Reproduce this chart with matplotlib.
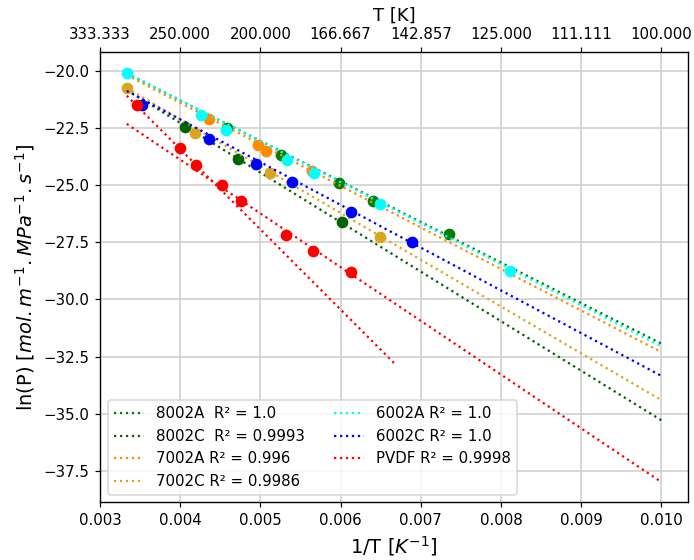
import numpy as np
import matplotlib
matplotlib.use('Agg')
import matplotlib.pyplot as plt

# measured points, x = 1/T [1/K], y = ln(P)
x_8002A = [0.004578, 0.005254, 0.00598, 0.006404, 0.00735]
y_8002A = [-22.50, -23.71, -24.92, -25.69, -27.15]

x_8002C = [0.004062, 0.004722, 0.006017]
y_8002C = [-22.47, -23.87, -26.64]

x_7002A = [0.004357, 0.004968, 0.005064, 0.00564]
y_7002A = [-22.11, -23.25, -23.50, -24.41]

x_7002C = [0.003333, 0.004183, 0.005121, 0.006487]
y_7002C = [-20.77, -22.75, -24.48, -27.28]

x_6002A = [0.003333, 0.004254, 0.00457, 0.005337, 0.005665, 0.006487, 0.008118]
y_6002A = [-20.10, -21.94, -22.61, -23.93, -24.48, -25.82, -28.75]

x_6002C = [0.003519, 0.004357, 0.004943, 0.005395, 0.006126, 0.00689]
y_6002C = [-21.50, -22.98, -24.08, -24.88, -26.20, -27.51]

x_PVDF = [0.003457, 0.003996, 0.004196, 0.004516, 0.004752, 0.005325, 0.005657, 0.006126]
y_PVDF = [-21.50, -23.39, -24.12, -25.02, -25.72, -27.18, -27.87, -28.82]

# fitted lines, value of ln(P) at T = 300 K and T = 100 K
fit_T = [300.0, 100.0]
fit_8002A = [-20.12, -31.93]
fit_8002C = [-20.85, -35.28]
fit_7002A = [-20.20, -32.30]
fit_7002C = [-20.77, -34.40]
fit_6002A = [-20.10, -32.05]
fit_6002C = [-20.89, -33.34]
fit_PVDF = [-22.33, -37.98]
# second PVDF fit, T = 300 K to 150 K
fit_PVDF_T2 = [300.0, 150.0]
fit_PVDF2 = [-21.10, -32.78]

names = ['8002A  R\u00b2 = 1.0', '8002C  R\u00b2 = 0.9993', '7002A R\u00b2 = 0.996',
         '7002C R\u00b2 = 0.9986', '6002A R\u00b2 = 1.0', '6002C R\u00b2 = 1.0',
         'PVDF R\u00b2 = 0.9998']
cores = ['green', 'darkgreen', 'darkorange', 'goldenrod', 'cyan', 'blue', 'red']

xs = [x_8002A, x_8002C, x_7002A, x_7002C, x_6002A, x_6002C, x_PVDF]
ys = [y_8002A, y_8002C, y_7002A, y_7002C, y_6002A, y_6002C, y_PVDF]
fits = [fit_8002A, fit_8002C, fit_7002A, fit_7002C, fit_6002A, fit_6002C, fit_PVDF]

fig = plt.figure(figsize=(694/108, 560/108), dpi=108)
ax = fig.add_axes([0.1441, 0.1027, 0.8473, 0.8038])

for i in range(len(names)):
    ax.scatter(xs[i], ys[i], s=46, color=cores[i], zorder=2)
    ax.plot(1/np.array(fit_T), fits[i], ':', color=cores[i], label=names[i], zorder=2)
    if names[i].startswith('PVDF'):
        ax.plot(1/np.array(fit_PVDF_T2), fit_PVDF2, ':', color=cores[i], zorder=2)

ax.set_axisbelow(True)
ax.grid(True, color='#cccccc', linewidth=1.0)
ax.set_xlabel(r'1/T [$K^{-1}$]', fontsize=13)
ax.set_ylabel(r'ln(P) [$mol.m^{-1}.MPa^{-1}.s^{-1}$]', fontsize=13)
ax.legend(loc='lower left', ncol=2, fontsize=10)

ax2 = ax.twiny()
ax2.set_xlim(ax.get_xlim())
ticks = [0.003, 0.004, 0.005, 0.006, 0.007, 0.008, 0.009, 0.010]
ax.set_xticks(ticks)
ax2.set_xticks(ticks)
ax2.set_xticklabels(['%.3f' % (1/t) for t in ticks])
ax2.set_xlabel('T [K]', fontsize=12)

plt.savefig('out.png', dpi=108)
